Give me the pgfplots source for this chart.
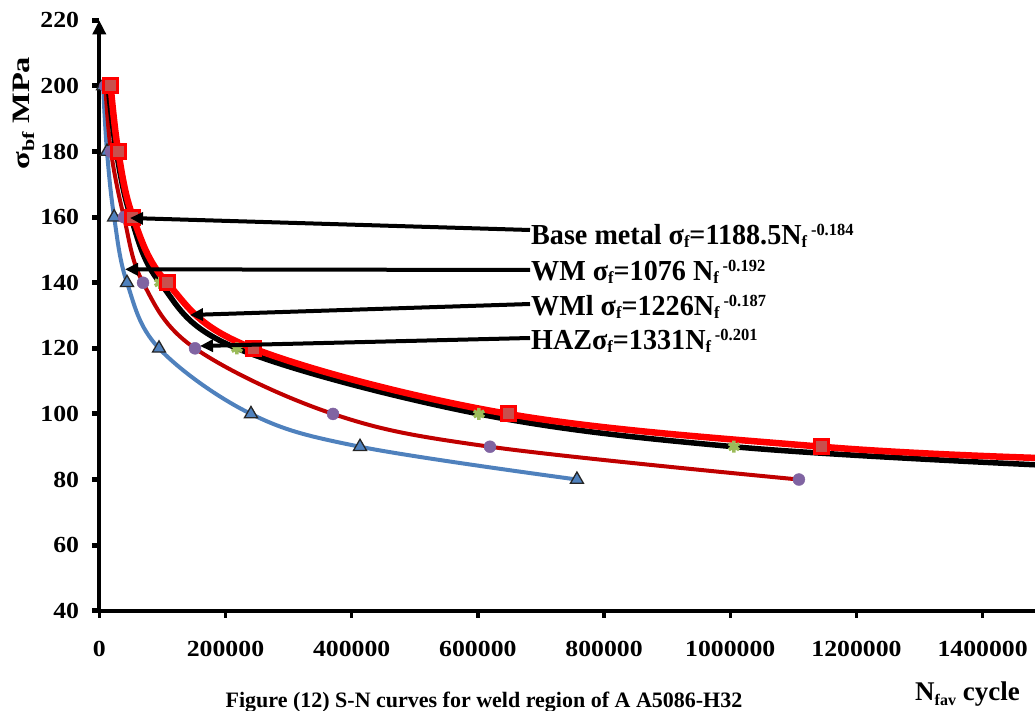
\documentclass[border=0pt]{standalone}
\usepackage{pgfplots}
\pgfplotsset{compat=1.18}
\usepackage{fontspec}
\setmainfont{Liberation Serif}
\newfontfamily\tickfont[FakeStretch=1.12]{Liberation Serif}
\usepackage{graphicx}
\usetikzlibrary{arrows.meta}

\definecolor{exred}{RGB}{255,0,0}
\definecolor{sqfill}{RGB}{200,80,77}
\definecolor{darkred}{RGB}{192,0,0}
\definecolor{exblue}{RGB}{79,129,189}
\definecolor{expurple}{RGB}{128,100,162}
\definecolor{exgreen}{RGB}{155,187,89}

\newcommand{\mysub}[1]{\raisebox{-3pt}{\fontsize{17}{17}\selectfont #1}}
\newcommand{\mysup}[1]{\hspace{4pt}\raisebox{9pt}{\fontsize{17}{17}\selectfont #1}}

\begin{document}
\begin{tikzpicture}
\useasboundingbox (0,0) rectangle (1035pt,710pt);
\begin{axis}[
 scale only axis, width=935.7pt, height=590.3pt,
 at={(99.3pt,99.3pt)}, anchor=south west,
 xmin=0, xmax=1483000, ymin=40, ymax=220,
 scaled x ticks=false, scaled y ticks=false,
 axis lines=left,
 axis line style={line width=4pt, black},
 x axis line style={-},
 y axis line style={-{Triangle[length=14pt,width=13pt]}},
 xtick={0,200000,400000,600000,800000,1000000,1200000,1400000},
 xticklabels={0,200000,400000,600000,800000,1000000,1200000,1400000},
 ytick={40,60,80,100,120,140,160,180,200,220},
 yticklabels={40,60,80,100,120,140,160,180,200,220},
 tick align=outside,
 major tick length=7pt,
 xtick style={line width=3.5pt, black},
 ytick style={line width=5pt, black},
 ticklabel style={font={\tickfont\bfseries\fontsize{23}{23}\selectfont}, inner sep=0pt},
 xticklabel style={anchor=north, yshift=-23pt},
 yticklabel style={anchor=east, xshift=-13pt},
]
% WM (blue)
\addplot[exblue, line width=4pt, smooth, tension=0.6] coordinates {(6000,200)(12200,180)(23500,160)(43900,140)(94600,120)(240400,100)(413200,90)(757000,80)};
\addplot[only marks, mark=triangle*, mark size=7.5pt, mark options={fill=exblue, draw=black!85, line width=1.3pt}] coordinates {(6000,200)(12200,180)(23500,160)(43900,140)(94600,120)(240400,100)(413200,90)(757000,80)};
% HAZ (dark red)
\addplot[darkred, line width=4pt, smooth, tension=0.6] coordinates {(9500,200)(18500,180)(39100,160)(69300,140)(151700,120)(370400,100)(619200,90)(1108800,80)};
\addplot[only marks, mark=*, mark size=6pt, mark options={fill=expurple, draw=expurple}] coordinates {(9500,200)(18500,180)(39100,160)(69300,140)(151700,120)(370400,100)(619200,90)(1108800,80)};
% WMl (green + black)
\addplot[only marks, mark=asterisk, mark size=6pt, mark options={draw=exgreen, line width=3.5pt}] coordinates {(96200,140)(218200,120)(601700,100)(1005900,90)};
\addplot[black, line width=5.5pt, smooth, tension=0.6] coordinates {(14000,200)(27000,180)(50000,160)(96200,140)(218200,120)(601700,100)(1005900,90)(1483000,84.5)};
% Base metal (red)
\addplot[exred, line width=6.5pt, smooth, tension=0.6] coordinates {(18000,200)(30000,180)(53400,160)(107300,140)(243600,120)(648000,100)(1144900,90)(1483000,86.6)};
\addplot[only marks, mark=square*, mark size=7pt, mark options={fill=sqfill, draw=exred, line width=3pt}] coordinates {(18000,200)(30000,180)(53400,160)(107300,140)(243600,120)(648000,100)(1144900,90)};
\end{axis}

% annotation arrows
\draw[line width=4pt, -{Triangle[length=13pt,width=12pt]}] (530pt,480pt) -- (130pt,492pt);
\draw[line width=4pt, -{Triangle[length=13pt,width=12pt]}] (530pt,440pt) -- (125pt,440.7pt);
\draw[line width=4pt, -{Triangle[length=13pt,width=12pt]}] (530pt,406pt) -- (190pt,395pt);
\draw[line width=4pt, -{Triangle[length=13pt,width=12pt]}] (530pt,372pt) -- (200pt,364pt);

% annotation labels
\begin{scope}[every node/.style={anchor=base west, inner sep=0pt, font={\bfseries\fontsize{29}{29}\selectfont}}]
\node at (531pt,465pt) {\scalebox{0.97}[1]{Base metal σ\mysub{f}=1188.5N\mysub{f}\mysup{-0.184}}};
\node at (531pt,429pt) {\scalebox{0.97}[1]{WM σ\mysub{f}=1076 N\mysub{f}\mysup{-0.192}}};
\node at (531pt,394pt) {\scalebox{0.97}[1]{WMl σ\mysub{f}=1226N\mysub{f}\mysup{-0.187}}};
\node at (531pt,360pt) {\scalebox{0.97}[1]{HAZσ\mysub{f}=1331N\mysub{f}\mysup{-0.201}}};
\end{scope}

% y label
\node[rotate=90, anchor=base, inner sep=0pt, font={\bfseries\fontsize{25}{25}\selectfont}] at (29pt,597pt) {\scalebox{1.3}[1]{σ\raisebox{-5pt}{\fontsize{17}{17}\selectfont bf} MPa}};
% x label
\node[anchor=base west, inner sep=0pt, font={\bfseries\fontsize{27}{27}\selectfont}] at (915pt,10pt) {N\raisebox{-5pt}{\fontsize{16}{16}\selectfont fav} cycle};
% caption
\node[anchor=base, inner sep=0pt, font={\bfseries\fontsize{22}{22}\selectfont}] at (484pt,3pt) {Figure (12) S-N curves for weld region of A A5086-H32};
\end{tikzpicture}
\end{document}
